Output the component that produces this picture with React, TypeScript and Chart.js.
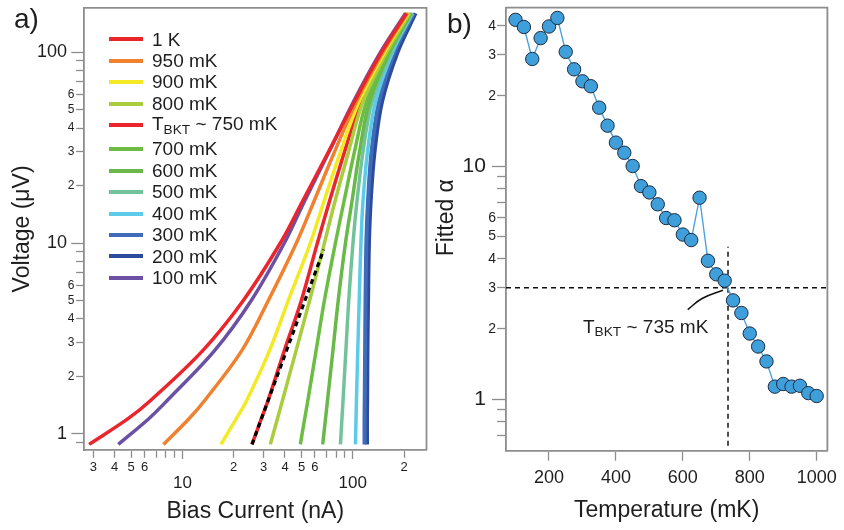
import React, { useEffect, useRef } from 'react';
import { Chart, registerables } from 'chart.js';

Chart.register(...registerables);

const FONT = '"Liberation Sans", Arial, Helvetica, sans-serif';
const AXIS = '#8d8d8d';
const INK = '#1e1e1e';

// ---------- Panel a) : I-V curves ----------
const ivLabels = ['1 K', '950 mK', '900 mK', '800 mK', 'T_{BKT} ~ 750 mK', '700 mK', '600 mK', '500 mK', '400 mK', '300 mK', '200 mK', '100 mK'];
const ivColors = ['#e8262c', '#f0812e', '#f3e925', '#a9cd3d', '#e8262c', '#6dbd45', '#69b94a', '#72c39c', '#5ccbe9', '#3f6cba', '#2d4b9c', '#6b50a4'];
const ivWidths = [3.5, 3.5, 3.5, 3.5, 3.5, 3.5, 3.5, 3.5, 3.5, 4, 4, 3.5];
// voltage levels (µV) at which the currents (nA) below were read
const voltageLevels = [0.88, 1.2, 1.5, 2.73, 5, 10, 16.5, 30, 55, 100, 160];
const current1K = [2.83, 4.79, 6.52, 13.15, 22.76, 37.56, 50.6, 71.96, 102.3, 147.5, 206.9];
const current950 = [7.73, 10.92, 13.54, 22.3, 31.93, 46.66, 59.13, 78.05, 105.1, 150.5, 209.2];
const current900 = [16.82, 20.7, 23.86, 32.45, 41.86, 56.39, 67.69, 84.64, 108.8, 153.6, 211.2];
const current800 = [32.8, 36.11, 38.69, 46.47, 55.78, 68.15, 78.58, 94.35, 114.8, 157.9, 215.6];
const current750 = [25.6, 29.04, 31.84, 39.65, 49.9, 62.0, 72.93, 89.4, 111.7, 155.8, 213.5];
const current700 = [49.24, 52.19, 54.51, 60.91, 68.15, 79.1, 88.78, 102.3, 120.4, 161.1, 217.9];
const current600 = [66.6, 69.18, 71.08, 76.47, 82.16, 90.6, 98.9, 109.5, 125.4, 164.4, 220.0];
const current500 = [84.64, 86.4, 87.7, 91.1, 94.7, 100.3, 105.8, 114.8, 129.7, 167.8, 222.4];
const current400 = [103.7, 104.5, 105.1, 107.0, 109.1, 111.7, 114.8, 122.0, 136.0, 171.2, 224.5];
const current300 = [117.2, 117.2, 117.5, 118.1, 118.8, 120.1, 122.8, 128.8, 142.6, 175.9, 227.6];
const current200 = [121.2, 121.2, 121.5, 122.0, 123.0, 124.5, 127.4, 134.2, 148.5, 183.2, 233.8];
const current100 = [4.2, 6.34, 8.16, 15.43, 25.36, 39.65, 51.98, 72.44, 100.9, 145.5, 204.2];
const ivCurrents = [current1K, current950, current900, current800, current750, current700, current600, current500, current400, current300, current200, current100];
// power-law fit (dashed)
const fitCurrent = [25.6, 67.5];
const fitVoltage = [0.88, 9.24];

const leftXMin = 2.641;
const leftXMax = 271;
const leftYMin = 0.8225;
const leftYMax = 170.9;
const leftXTicks = [3, 4, 5, 6, 7, 8, 9, 10, 20, 30, 40, 50, 60, 70, 80, 90, 100, 200];
const leftXLabels = ['3', '4', '5', '6', '', '', '', '10', '2', '3', '4', '5', '6', '', '', '', '100', '2'];
const leftYTicks = [0.9, 1, 2, 3, 4, 5, 6, 7, 8, 9, 10, 20, 30, 40, 50, 60, 70, 80, 90, 100];
const leftYLabels = ['', '1', '2', '3', '4', '5', '6', '', '', '', '10', '2', '3', '4', '5', '6', '', '', '', '100'];

// ---------- Panel b) : fitted alpha ----------
const temps = [100, 125, 150, 175, 200, 225, 250, 275, 300, 325, 350, 375, 400, 425, 450, 475, 500, 525, 550, 575, 600, 625, 650, 675, 700, 725, 750, 775, 800, 825, 850, 875, 900, 925, 950, 975, 1000];
const alphas = [42.4, 39.5, 28.8, 35.4, 39.7, 43.2, 30.9, 26.0, 23.1, 22.0, 17.8, 14.9, 12.6, 11.4, 10.0, 8.2, 7.7, 6.85, 5.98, 5.85, 5.08, 4.81, 7.31, 3.92, 3.43, 3.22, 2.65, 2.34, 1.91, 1.68, 1.45, 1.13, 1.16, 1.13, 1.14, 1.06, 1.03];
const tempMin = 71.5;
const tempMax = 1032;
const alphaMin = 0.63;
const alphaMax = 47.8;
const bktTemp = 735;
const bktAlpha = 3;
const bktVLineTop = 4.5;
const leaderTemps = [614.6, 657.5, 719.7];
const leaderAlphas = [2.42, 2.7, 2.93];
const tempTicks = [200, 400, 600, 800, 1000];
const alphaTicks = [0.7, 0.8, 0.9, 1, 2, 3, 4, 5, 6, 7, 8, 9, 10, 20, 30, 40];
const alphaLabels = ['', '', '', '1', '2', '3', '4', '5', '6', '', '', '', '10', '2', '3', '4'];

const isDecade = (v: number) => Math.abs(Math.log10(v) - Math.round(Math.log10(v))) < 1e-9;

const framePlugin = {
  id: 'frame',
  afterDraw(chart: any) {
    const { ctx, chartArea } = chart;
    ctx.save();
    ctx.strokeStyle = AXIS;
    ctx.lineWidth = 1.8;
    ctx.beginPath();
    ctx.moveTo(chartArea.left, chartArea.top);
    ctx.lineTo(chartArea.right, chartArea.top);
    ctx.lineTo(chartArea.right, chartArea.bottom);
    ctx.stroke();
    ctx.restore();
  },
};

function renderLabel(s: string) {
  const m = s.match(/^(.*)_\{(.*?)\}(.*)$/);
  if (!m) return s;
  return (
    <>
      {m[1]}
      <span style={{ fontSize: '0.72em', position: 'relative', top: '0.28em' }}>{m[2]}</span>
      {m[3]}
    </>
  );
}

function LeftChart() {
  const ref = useRef<HTMLCanvasElement>(null);
  useEffect(() => {
    const datasets: any[] = [
      {
        label: 'fit',
        data: fitCurrent.map((c, i) => ({ x: c, y: fitVoltage[i] })),
        showLine: true,
        borderColor: '#000',
        borderWidth: 3.2,
        borderDash: [5, 4],
        pointRadius: 0,
        order: 0,
      },
    ];
    ivCurrents.forEach((cur, k) => {
      datasets.push({
        label: ivLabels[k],
        data: cur.map((c, i) => ({ x: c, y: voltageLevels[i] })),
        showLine: true,
        borderColor: ivColors[k],
        borderWidth: ivWidths[k],
        pointRadius: 0,
        tension: 0.35,
        order: k + 1,
      });
    });
    const chart = new Chart(ref.current as HTMLCanvasElement, {
      type: 'scatter',
      data: { datasets },
      options: {
        responsive: false,
        animation: false,
        events: [],
        layout: { padding: { top: 5, right: 3.5, left: 0, bottom: 0 } },
        plugins: { legend: { display: false }, tooltip: { enabled: false } },
        scales: {
          x: {
            type: 'logarithmic',
            min: leftXMin,
            max: leftXMax,
            afterBuildTicks: (s: any) => {
              s.ticks = leftXTicks.map((v) => ({ value: v }));
            },
            afterFit: (s: any) => {
              s.height = 80;
            },
            border: { display: true, color: AXIS, width: 1.8 },
            grid: {
              drawOnChartArea: false,
              drawTicks: true,
              tickLength: 9,
              tickColor: AXIS,
              tickWidth: 1.3,
              tickBorderDash: (ctx: any) => (ctx.tick && isDecade(ctx.tick.value) ? [] : [7, 30]),
            },
            ticks: {
              autoSkip: false,
              maxRotation: 0,
              minRotation: 0,
              padding: 1,
              color: INK,
              font: (ctx: any) =>
                ctx.tick && isDecade(ctx.tick.value)
                  ? { family: FONT, size: 17, lineHeight: 0.9 }
                  : { family: FONT, size: 13 },
              callback: (v: any, i: number) => (isDecade(leftXTicks[i]) ? ['', leftXLabels[i]] : leftXLabels[i]),
            },
            title: {
              display: true,
              text: 'Bias Current (nA)',
              color: INK,
              font: { family: FONT, size: 23 },
              padding: { top: 0, bottom: 4.5 },
            },
          },
          y: {
            type: 'logarithmic',
            min: leftYMin,
            max: leftYMax,
            afterBuildTicks: (s: any) => {
              s.ticks = leftYTicks.map((v) => ({ value: v }));
            },
            afterFit: (s: any) => {
              s.width = 84;
            },
            border: { display: true, color: AXIS, width: 1.8 },
            grid: {
              drawOnChartArea: false,
              drawTicks: true,
              tickLength: 12.7,
              tickColor: AXIS,
              tickWidth: 1.3,
              tickBorderDash: (ctx: any) => (ctx.tick && isDecade(ctx.tick.value) ? [] : [7, 4.8]),
              tickBorderDashOffset: (ctx: any) => (ctx.tick && isDecade(ctx.tick.value) ? 0 : 7),
            },
            ticks: {
              autoSkip: false,
              padding: -3,
              color: INK,
              font: (ctx: any) =>
                ctx.tick && isDecade(ctx.tick.value) ? { family: FONT, size: 18 } : { family: FONT, size: 12 },
              callback: (v: any, i: number) =>
                isDecade(leftYTicks[i]) ? leftYLabels[i] + '\u2009\u2009' : leftYLabels[i],
            },
            title: {
              display: true,
              text: 'Voltage (μV)',
              color: INK,
              font: { family: FONT, size: 23 },
              padding: { top: 9, bottom: 0 },
            },
          },
        },
      },
      plugins: [framePlugin],
    } as any);
    return () => chart.destroy();
  }, []);
  return <canvas ref={ref} width={430} height={530} style={{ position: 'absolute', left: 0, top: 0 }} />;
}

function RightChart() {
  const ref = useRef<HTMLCanvasElement>(null);
  useEffect(() => {
    const dash = { showLine: true, borderColor: '#111', borderWidth: 1.5, borderDash: [5, 4], pointRadius: 0 };
    const chart = new Chart(ref.current as HTMLCanvasElement, {
      type: 'scatter',
      data: {
        datasets: [
          {
            label: 'Fitted alpha',
            data: temps.map((t, i) => ({ x: t, y: alphas[i] })),
            showLine: true,
            borderColor: '#4aa3dc',
            borderWidth: 1.4,
            pointRadius: 6.7,
            pointBackgroundColor: '#3f9fdb',
            pointBorderColor: '#1d2b40',
            pointBorderWidth: 1,
            order: 0,
          },
          { ...dash, data: [{ x: tempMin, y: bktAlpha }, { x: tempMax, y: bktAlpha }], order: 1 },
          { ...dash, data: [{ x: bktTemp, y: alphaMin }, { x: bktTemp, y: bktVLineTop }], order: 2 },
          {
            showLine: true,
            borderColor: '#111',
            borderWidth: 1.5,
            pointRadius: 0,
            tension: 0.4,
            data: leaderTemps.map((t, i) => ({ x: t, y: leaderAlphas[i] })),
            order: 3,
          },
        ],
      },
      options: {
        responsive: false,
        animation: false,
        events: [],
        layout: { padding: { top: 7, right: 9, left: 0, bottom: 0 } },
        plugins: { legend: { display: false }, tooltip: { enabled: false } },
        scales: {
          x: {
            type: 'linear',
            min: tempMin,
            max: tempMax,
            afterBuildTicks: (s: any) => {
              s.ticks = tempTicks.map((v) => ({ value: v }));
            },
            afterFit: (s: any) => {
              s.height = 79.3;
            },
            border: { display: true, color: AXIS, width: 1.8 },
            grid: { drawOnChartArea: false, drawTicks: true, tickLength: 10, tickColor: AXIS, tickWidth: 1.3 },
            ticks: {
              autoSkip: false,
              maxRotation: 0,
              padding: 7,
              color: INK,
              font: { family: FONT, size: 18 },
              callback: (v: any) => String(v),
            },
            title: {
              display: true,
              text: 'Temperature (mK)',
              color: INK,
              font: { family: FONT, size: 23 },
              padding: { top: 0, bottom: 5.5 },
            },
          },
          y: {
            type: 'logarithmic',
            min: alphaMin,
            max: alphaMax,
            afterBuildTicks: (s: any) => {
              s.ticks = alphaTicks.map((v) => ({ value: v }));
            },
            afterFit: (s: any) => {
              s.width = 76;
            },
            border: { display: true, color: AXIS, width: 1.8 },
            grid: {
              drawOnChartArea: false,
              drawTicks: true,
              tickLength: 14,
              tickColor: AXIS,
              tickWidth: 1.3,
              tickBorderDash: (ctx: any) => (ctx.tick && isDecade(ctx.tick.value) ? [] : [8, 5.1]),
              tickBorderDashOffset: (ctx: any) => (ctx.tick && isDecade(ctx.tick.value) ? 0 : 8),
            },
            ticks: {
              autoSkip: false,
              padding: -4,
              color: INK,
              font: (ctx: any) =>
                ctx.tick && isDecade(ctx.tick.value) ? { family: FONT, size: 21 } : { family: FONT, size: 14 },
              callback: (v: any, i: number) =>
                isDecade(alphaTicks[i]) ? alphaLabels[i] + ' \u2009' : alphaLabels[i],
            },
            title: {
              display: true,
              text: '\u2002\u2002Fitted α',
              color: INK,
              font: { family: FONT, size: 23 },
              padding: { top: 3, bottom: 0 },
            },
          },
        },
      },
      plugins: [framePlugin],
    } as any);
    return () => chart.destroy();
  }, []);
  return <canvas ref={ref} width={414} height={530} style={{ position: 'absolute', left: 430, top: 0 }} />;
}

function Legend() {
  const rowH = 21.45;
  return (
    <div style={{ position: 'absolute', left: 109, top: 28.6, fontFamily: FONT, fontSize: 19, color: INK }}>
      {ivLabels.map((lab, i) => (
        <div
          key={i}
          style={{
            position: 'absolute',
            top: i * rowH + (i >= 5 ? 2.6 : 0),
            left: 0,
            height: rowH,
            display: 'flex',
            alignItems: 'center',
            whiteSpace: 'pre',
            lineHeight: `${rowH}px`,
          }}
        >
          <div style={{ width: 34, height: 4, background: ivColors[i], marginRight: 9 }} />
          <span>{renderLabel(lab)}</span>
        </div>
      ))}
    </div>
  );
}

export default function App() {
  return (
    <div style={{ position: 'absolute', left: 0, top: 0, width: 844, height: 530, background: '#fff', overflow: 'hidden' }}>
      <LeftChart />
      <RightChart />
      <Legend />
      <div style={{ position: 'absolute', left: 14, top: 4.6, fontFamily: FONT, fontSize: 28, lineHeight: '28px', color: INK }}>a)</div>
      <div style={{ position: 'absolute', left: 447, top: 9.6, fontFamily: FONT, fontSize: 28, lineHeight: '28px', color: INK }}>b)</div>
      <div
        style={{
          position: 'absolute',
          left: 583,
          top: 316.5,
          fontFamily: FONT,
          fontSize: 19,
          lineHeight: '19px',
          color: INK,
          whiteSpace: 'pre',
        }}
      >
        {renderLabel('T_{BKT} ~ 735 mK')}
      </div>
    </div>
  );
}
